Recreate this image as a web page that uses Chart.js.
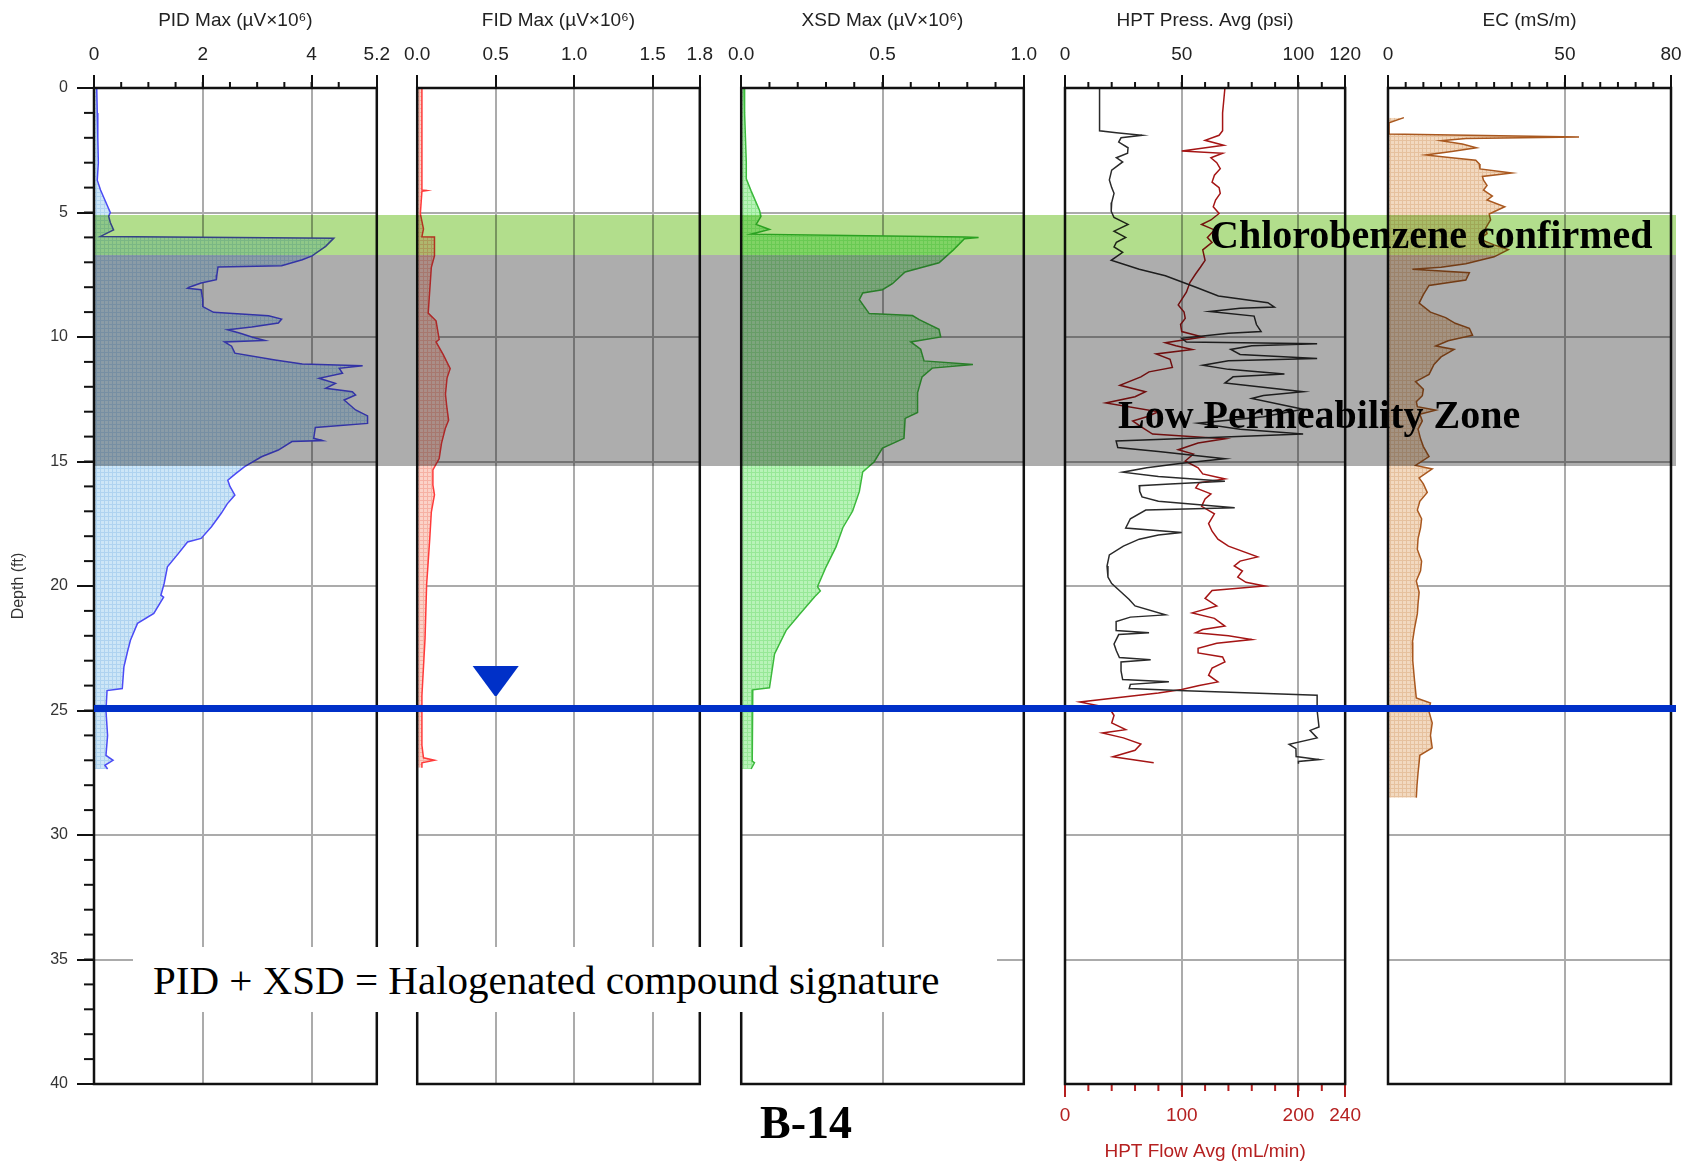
<!DOCTYPE html>
<html>
<head>
<meta charset="utf-8">
<script src="https://cdn.jsdelivr.net/npm/chart.js@4.4.1/dist/chart.umd.min.js"></script>
<style>
html,body{margin:0;padding:0;background:#fff}
#wrap{position:relative;width:1690px;height:1165px;overflow:hidden;background:#fff}
#wrap canvas{position:absolute;top:0}
.band{position:absolute;mix-blend-mode:multiply}
.note{position:absolute;font-family:"Liberation Serif","DejaVu Serif",serif;color:#000;white-space:nowrap;line-height:1}
</style>
</head>
<body>
<div id="wrap"></div>
<script>
'use strict';

// ---- data (depth in ft, values per log) ----
const DEPTH_TICKS=[0,5,10,15,20,25,30,35,40];
const PID_TICKS=[0,2,4,5.2], FID_TICKS=[0,0.5,1,1.5,1.8], XSD_TICKS=[0,0.5,1];
const PRESS_TICKS=[0,50,100,120], FLOW_TICKS=[0,100,200,240], EC_TICKS=[0,50,80];

const PID_DEPTH=[0,1,2,3,3.7,4.1,4.5,5.0,5.15,5.4,
  5.7,5.96,6.03,6.36,6.74,6.9,7.14,7.19,7.5,7.7,
  7.83,8.0,8.04,8.1,8.5,8.78,9.01,9.15,9.28,9.44,
  9.6,9.71,9.85,10.0,10.14,10.2,10.37,10.65,10.92,11.08,
  11.15,11.26,11.46,11.66,11.86,12.06,12.2,12.33,12.53,12.93,
  13.17,13.47,13.63,14.07,14.16,14.2,14.54,14.81,15.21,15.5,
  15.75,16.0,16.35,16.7,17.08,17.62,18.09,18.23,18.7,19.23,
  19.9,20.37,20.45,21.1,21.5,22.18,22.6,23.25,24.12,24.2,
  25,26,26.8,27.0,27.2,27.35];
const PID_VAL=[0.05,0.06,0.07,0.08,0.06,0.12,0.2,0.30,0.27,0.30,
  0.36,0.12,4.41,4.26,4.01,3.83,3.45,2.28,2.26,2.25,
  1.97,1.75,1.72,1.97,2.0,2.0,2.2,3.21,3.45,3.39,
  2.9,2.46,2.69,2.9,3.14,2.40,2.53,2.59,3.33,3.83,
  4.94,4.51,4.57,4.14,4.44,4.26,4.75,4.81,4.6,4.81,
  5.03,5.03,4.07,4.04,4.2,3.64,3.39,3.08,2.77,2.6,
  2.46,2.5,2.59,2.45,2.34,2.16,1.97,1.72,1.55,1.35,
  1.29,1.23,1.28,1.10,0.80,0.67,0.62,0.55,0.52,0.24,
  0.22,0.25,0.22,0.35,0.2,0.25];

const FID_DEPTH=[0,2,3.66,4.1,4.12,4.15,5.05,5.66,5.97,5.98,
  6.74,7.2,8.12,9.04,9.35,10.1,10.2,10.7,11.27,11.65,
  12.3,12.88,13.34,13.65,14.26,14.88,15.34,15.95,16.34,17.03,
  18.1,19.95,22.1,24.4,26.4,26.9,27.0,27.1,27.3];
const FID_VAL=[0.03,0.03,0.03,0.03,0.06,0.03,0.02,0.04,0.03,0.11,
  0.11,0.09,0.08,0.07,0.12,0.14,0.12,0.165,0.21,0.19,
  0.18,0.19,0.20,0.18,0.155,0.14,0.10,0.10,0.11,0.09,
  0.08,0.06,0.05,0.03,0.03,0.04,0.11,0.03,0.03];

const XSD_DEPTH=[0,1,2,3,3.65,4.13,4.92,5.16,5.48,5.68,
  5.87,5.98,6.0,6.05,6.51,7.02,7.39,7.86,8.1,8.23,
  8.5,9.06,9.14,9.3,9.69,10.0,10.2,10.49,10.96,11.1,
  11.25,11.6,12.24,13.03,13.27,14.07,14.46,15.02,15.42,16.21,
  17.0,17.65,18.44,19.24,20.03,20.2,20.43,21.14,21.78,22.73,
  24.09,24.17,27.03,27.1,27.35];
const XSD_VAL=[0.01,0.012,0.015,0.018,0.018,0.035,0.065,0.07,0.053,0.10,
  0.035,0.79,0.84,0.79,0.75,0.70,0.58,0.535,0.50,0.43,
  0.418,0.453,0.606,0.63,0.70,0.706,0.60,0.635,0.647,0.82,
  0.676,0.64,0.624,0.624,0.58,0.576,0.50,0.47,0.43,0.418,
  0.394,0.36,0.335,0.30,0.27,0.28,0.26,0.206,0.159,0.118,
  0.10,0.041,0.039,0.047,0.035];

const PRESS_DEPTH=[0,1.72,1.8,1.9,2.0,2.17,2.4,2.62,2.8,2.97,
  3.3,3.69,4.0,4.23,4.6,4.95,5.2,5.48,5.75,6.0,
  6.2,6.38,6.6,6.92,7.28,7.54,7.99,8.35,8.62,8.8,
  8.85,8.98,9.16,9.5,9.78,9.85,10.05,10.2,10.27,10.35,
  10.5,10.7,10.86,10.95,11.13,11.3,11.49,11.6,11.85,12.2,
  12.35,12.47,12.9,13.2,13.46,13.7,13.9,14.05,14.18,14.44,
  14.6,14.89,15.07,15.25,15.43,15.6,15.79,15.9,15.97,16.2,
  16.42,16.6,16.86,16.95,17.3,17.67,17.85,17.95,18.12,18.4,
  18.75,19.2,19.64,19.9,20.18,20.54,20.8,21.16,21.25,21.43,
  21.79,21.88,21.95,22.33,22.6,22.87,22.96,23.05,23.41,23.76,
  23.85,23.95,24.12,24.21,24.3,24.39,25.0,25.66,25.8,26.1,
  26.36,26.53,26.85,26.97,27.05,27.14];
const PRESS_VAL=[14.8,14.8,22,33,24,23,27,26.8,22,24.7,
  20,19,20,21,20,19.8,21,27,21,26,
  22,21,24.7,19.8,31.8,43,55.8,65.7,86.9,89.7,
  75,62,81,82,84,70,50,52,108,80,
  71,75,108,70,59,70,94,72,68.5,102,
  85,80,102,85,57,75,102,60,21.9,22.6,
  40,68.5,50,35,24.7,40,68.5,45,31.8,32,
  33,40,72.7,34.6,28,26,50,40,31.8,25,
  19,18,18.4,20,23.3,27.5,30,43,28,21.9,
  21.9,36,23,21,22,23.3,36.7,24,24,24.7,
  44.5,28,27.5,51.6,80,108,108,108.8,105,108,
  96,98.9,99,108.8,100,100];

const FLOW_DEPTH=[0,0.5,1.0,1.72,1.9,2.1,2.3,2.53,2.62,2.8,
  3.0,3.24,3.5,3.78,4.0,4.23,4.5,4.77,5.04,5.3,
  5.48,5.7,6.0,6.2,6.5,6.92,7.2,7.46,7.81,8.2,
  8.71,9.0,9.25,9.5,9.78,10.0,10.23,10.35,10.5,10.68,
  10.9,11.22,11.4,11.6,11.94,12.2,12.4,12.65,13.0,13.2,
  13.37,13.6,13.9,14.09,14.26,14.53,14.7,14.98,15.25,15.5,
  15.7,15.85,16.06,16.3,16.5,16.8,17.1,17.49,17.8,18.12,
  18.4,18.83,19.0,19.19,19.4,19.64,19.85,20.0,20.18,20.5,
  20.8,21.08,21.3,21.61,21.75,21.88,22.0,22.15,22.3,22.5,
  22.69,22.85,23.05,23.3,23.58,23.85,24.0,24.16,24.3,24.66,
  24.9,25.2,25.5,25.77,25.9,26.1,26.35,26.6,26.86,27.1];
const FLOW_VAL=[137,136,135,135,132,120,136,100,135,125,
  130,133,128,126,132,133,129,127,132,125,
  117,128,122,126,118,120,116,112,107,104,
  97,102,103,99,100,118,86,95,109,78,
  90,92,72,65,47,69,60,35,80,70,
  58,65,75,137,114,97,110,103,114,118,
  137,115,112,125,120,117,128,123,126,131,
  140,165,150,145,152,148,155,171,126,120,
  130,109,128,137,118,112,140,160,130,114,
  114,135,137,126,123,131,115,100,80,12.7,
  38,42,40,52,32,50,65,60,41,76];

const EC_DEPTH=[1.19,1.4,1.85,1.97,2.03,2.12,2.25,2.4,2.55,2.69,
  2.8,2.9,3.05,3.25,3.41,3.55,3.7,3.91,4.1,4.34,
  4.5,4.77,5.06,5.3,5.63,5.85,6.06,6.3,6.49,6.78,
  7.06,7.2,7.28,7.42,7.71,7.93,8.3,8.64,9.0,9.22,
  9.45,9.65,9.93,10.15,10.36,10.5,10.8,11.1,11.5,11.79,
  12.1,12.36,12.6,12.8,12.94,13.1,13.37,13.7,14.09,14.4,
  14.8,15.16,15.3,15.66,15.9,16.24,16.6,16.95,17.3,17.67,
  18.1,18.53,19.0,19.39,19.8,20.25,20.7,21.11,21.7,22.26,
  23.0,23.8,24.5,24.7,25.0,25.5,26.0,26.5,26.8,27.5,
  28.0,28.5];
const EC_VAL=[4.5,0.3,0.3,54,22,15,21,25,18,10.7,
  18,24.8,25.8,26,35,26.7,27,28,27,29.5,
  28,33,28.6,29,27.6,28,25.8,30,34,30,
  22,15,6.9,23,22,11.6,10,8.8,12,16.3,
  19,23,23.9,17,13.5,18.7,15,13,11.6,7.8,
  10,9.7,8,8.3,13.5,9,9.7,8.5,9.2,10,
  11.6,7.8,12.5,8.8,10,11.1,9,8.3,9.5,9.2,
  8.5,8.3,9.5,9.2,8,8.8,8.5,8.3,7.5,6.9,
  7.0,7.5,8,12,11.5,12.5,12,12.5,9,8.5,
  8.2,8.0];

// annotation zones (ft)
const BAND_TOP=[6.7,5.1], BAND_BOTTOM=[15.2,6.7], BAND_COLOR=['#adadad','#b2de8c'];
const WATER_DEPTH=24.9, WATER_MARK_FID=0.5;

// ---- layout ----
const FONT='"Liberation Sans", Arial, sans-serif';
const GRID='#ababab';
const H=1165, TOP=88, BOTTOM=1084;
const PANEL_LEFT=[94,417,741,1065,1388], PANEL_W=283, PAD=22;
const wrap=document.getElementById('wrap');

function hatch(base,line){
  const c=document.createElement('canvas'); c.width=c.height=4;
  const g=c.getContext('2d');
  g.fillStyle=base; g.fillRect(0,0,4,4);
  g.fillStyle=line; g.fillRect(0,0,4,1); g.fillRect(0,0,1,4);
  return g.createPattern(c,'repeat');
}

function series(depth,vals,color,fill,axis){
  return {data:depth.map((d,k)=>({x:vals[k],y:d})),borderColor:color,borderWidth:1.5,
    pointRadius:0,tension:0,fill:fill?'origin':false,backgroundColor:fill||'transparent',xAxisID:axis||'x'};
}

function valueAxis(pos,title,ticks,fmt,color){
  return {
    type:'linear',position:pos,min:ticks[0],max:ticks[ticks.length-1],
    afterBuildTicks:s=>{s.ticks=ticks.map(v=>({value:v}));},
    afterFit:s=>{s.height=pos==='top'?TOP:H-BOTTOM;},
    ticks:{color:color,font:{family:FONT,size:19},padding:pos==='top'?9:7,maxRotation:0,autoSkip:false,callback:v=>fmt(v)},
    grid:{color:GRID,lineWidth:2,tickLength:13,tickColor:pos==='top'?'#111':color,tickWidth:2,drawOnChartArea:pos==='top'},
    border:{display:false},
    title:{display:true,text:title,color:color,font:{family:FONT,size:19},padding:pos==='top'?{top:9,bottom:0}:{top:0,bottom:2}}
  };
}

function depthAxis(show){
  return {
    type:'linear',reverse:true,min:0,max:40,
    afterBuildTicks:s=>{s.ticks=DEPTH_TICKS.map(v=>({value:v}));},
    afterFit:s=>{s.width=show?PANEL_LEFT[0]:0;},
    ticks:{display:show,color:'#333',font:{family:FONT,size:16},padding:9},
    grid:{color:GRID,lineWidth:2,drawTicks:show,tickLength:17,tickColor:'#111',tickWidth:2},
    border:{display:false},
    title:{display:show,text:'Depth (ft)',color:'#333',font:{family:FONT,size:16},padding:{top:9,bottom:0}}
  };
}

// minor ticks + black frame, positions from the chart's own scales
const frameTicks={
  id:'frameTicks',
  afterDraw(chart,args,opts){
    const ctx=chart.ctx,a=chart.chartArea;
    ctx.save();
    ctx.lineWidth=2;
    (opts.minor||[]).forEach(m=>{
      const s=chart.scales[m.axis];
      ctx.strokeStyle=m.color||'#111';
      const n=Math.round((s.max-s.min)/m.step);
      for(let k=1;k<n;k++){
        const p=s.getPixelForValue(s.min+k*m.step);
        ctx.beginPath();
        if(m.axis==='y'){ctx.moveTo(a.left-m.len,p);ctx.lineTo(a.left,p);}
        else if(s.position==='top'){ctx.moveTo(p,a.top-m.len);ctx.lineTo(p,a.top);}
        else{ctx.moveTo(p,a.bottom);ctx.lineTo(p,a.bottom+m.len);}
        ctx.stroke();
      }
    });
    ctx.strokeStyle='#111';ctx.lineWidth=2.5;
    ctx.strokeRect(a.left,a.top,a.right-a.left,a.bottom-a.top);
    ctx.restore();
  }
};

function makePanel(i,datasets,scales,minor){
  const cv=document.createElement('canvas');
  const left=i===0?0:PANEL_LEFT[i]-PAD;
  const w=i===0?PANEL_LEFT[0]+PANEL_W+PAD:PANEL_W+2*PAD;
  cv.width=w;cv.height=H;cv.style.left=left+'px';cv.style.width=w+'px';cv.style.height=H+'px';
  wrap.appendChild(cv);
  const hasBottom=!!scales.x2;
  return new Chart(cv,{
    type:'line',
    data:{datasets},
    plugins:[frameTicks],
    options:{
      indexAxis:'y',responsive:false,animation:false,events:[],
      layout:{padding:{left:i===0?0:PAD,right:PAD,top:0,bottom:hasBottom?0:H-BOTTOM}},
      plugins:{legend:{display:false},tooltip:{enabled:false},frameTicks:{minor}},
      scales:Object.assign({y:depthAxis(i===0)},scales)
    }
  });
}

const f0=v=>String(v), f1=v=>v.toFixed(1);
const charts=[];
charts.push(makePanel(0,
  [series(PID_DEPTH,PID_VAL,'#4b4bf5',hatch('#cde6f7','#afd3f0'))],
  {x:valueAxis('top','PID Max (µV\u00d710\u2076)',PID_TICKS,f0,'#222')},
  [{axis:'x',step:0.5,len:6},{axis:'y',step:1,len:10}]));
charts.push(makePanel(1,
  [series(FID_DEPTH,FID_VAL,'#ff3a3a',hatch('#fbd2c8','#f6b1a4'))],
  {x:valueAxis('top','FID Max (µV\u00d710\u2076)',FID_TICKS,f1,'#222')},
  []));
charts.push(makePanel(2,
  [series(XSD_DEPTH,XSD_VAL,'#3cb93c',hatch('#b8f3b8','#97e897'))],
  {x:valueAxis('top','XSD Max (µV\u00d710\u2076)',XSD_TICKS,f1,'#222')},
  [{axis:'x',step:0.1,len:6}]));
charts.push(makePanel(3,
  [series(PRESS_DEPTH,PRESS_VAL,'#2a2a2a',null,'x'),
   series(FLOW_DEPTH,FLOW_VAL,'#a51515',null,'x2')],
  {x:valueAxis('top','HPT Press. Avg (psi)',PRESS_TICKS,f0,'#222'),
   x2:valueAxis('bottom','HPT Flow Avg (mL/min)',FLOW_TICKS,f0,'#b52020')},
  [{axis:'x',step:10,len:6},{axis:'x2',step:20,len:7,color:'#b52020'}]));
charts.push(makePanel(4,
  [series(EC_DEPTH,EC_VAL,'#a9581f',hatch('#f2d9c0','#e6c19e'))],
  {x:valueAxis('top','EC (mS/m)',EC_TICKS,f0,'#222')},
  [{axis:'x',step:5,len:6}]));

// ---- overlays placed through the chart scales ----
function addDiv(cls,css,html){
  const d=document.createElement('div');d.className=cls;Object.assign(d.style,css);
  if(html)d.innerHTML=html;wrap.appendChild(d);return d;
}
const yS=charts[0].scales.y;
const xL=charts[0].chartArea.left;
const last=charts[4];
const xR=last.canvas.offsetLeft+last.chartArea.right+5;
BAND_TOP.forEach((d,k)=>{
  const t=yS.getPixelForValue(d),b=yS.getPixelForValue(BAND_BOTTOM[k]);
  addDiv('band',{left:xL+'px',top:t+'px',width:(xR-xL)+'px',height:(b-t)+'px',background:BAND_COLOR[k]});
});
const wy=yS.getPixelForValue(WATER_DEPTH);
addDiv('',{position:'absolute',left:xL+'px',top:(wy-3.5)+'px',width:(xR-xL)+'px',height:'7px',background:'#0030c8'});
const fid=charts[1];
const tx=fid.canvas.offsetLeft+fid.scales.x.getPixelForValue(WATER_MARK_FID);
addDiv('',{position:'absolute',left:(tx-24)+'px',top:(wy-42)+'px',width:'48px',height:'30px',background:'#0030c8',
  clipPath:'polygon(2% 0,98% 0,52% 100%,48% 100%)'});

addDiv('note',{left:'1210px',top:'215px',fontSize:'40px',fontWeight:'bold'},'Chlorobenzene confirmed');
addDiv('note',{left:'1118px',top:'395px',fontSize:'40px',fontWeight:'bold'},'Low Permeability Zone');
addDiv('note',{left:'133px',top:'947px',width:'864px',height:'65px',background:'#fff'});
addDiv('note',{left:'153px',top:'960px',fontSize:'41px'},'PID + XSD = Halogenated compound signature');
addDiv('note',{left:'760px',top:'1100px',fontSize:'46px',fontWeight:'bold'},'B-14');
</script>
</body>
</html>
